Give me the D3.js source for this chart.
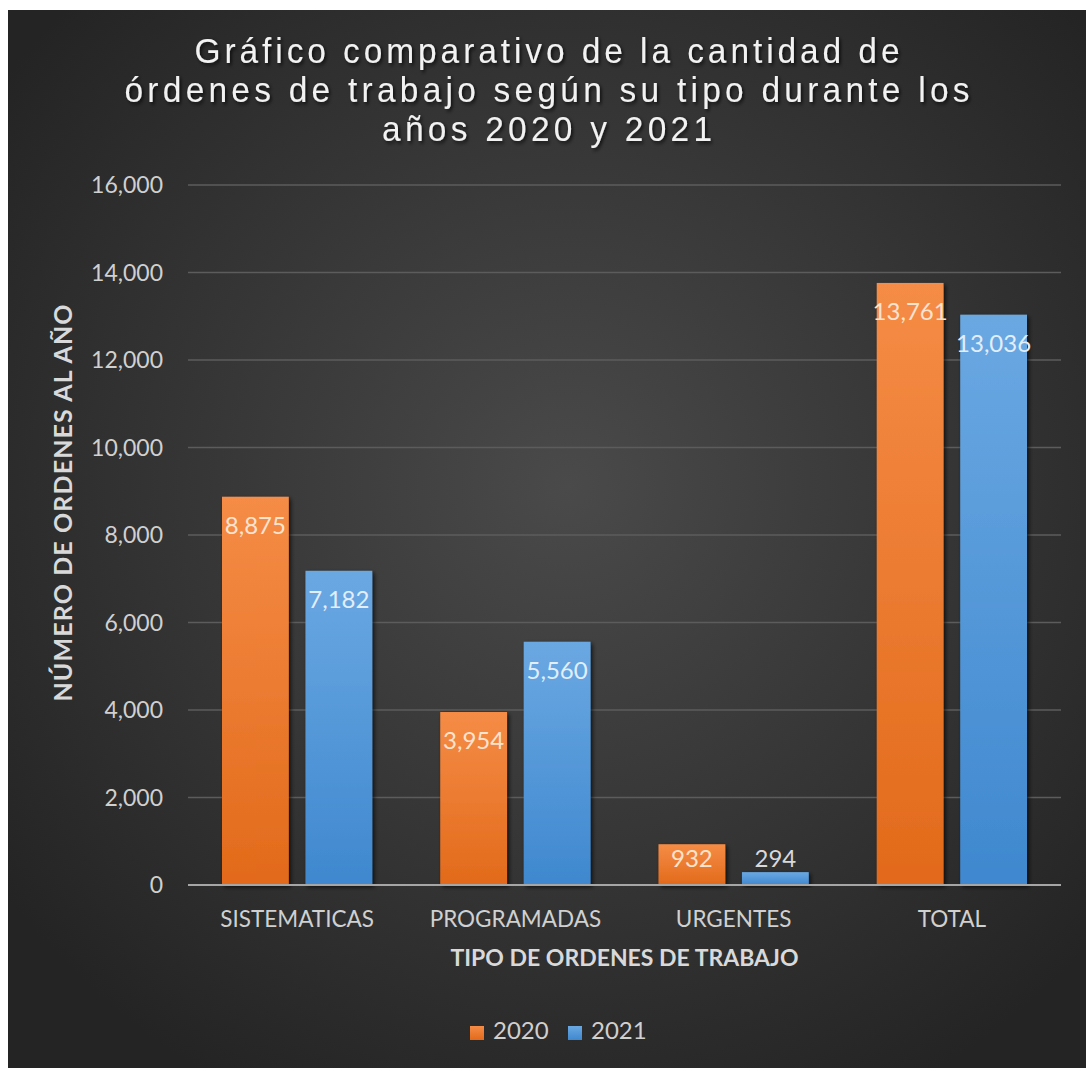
<!DOCTYPE html>
<meta charset="utf-8">
<style>
  body { margin: 0; background: #fff; }
</style>
<svg width="1086" height="1068"></svg>
<script src="https://d3js.org/d3.v7.min.js"></script>
<script>

    var categories = ["SISTEMATICAS", "PROGRAMADAS", "URGENTES", "TOTAL"];
    var years = ["2020", "2021"];
    var values2020 = [8875, 3954, 932, 13761];
    var values2021 = [7182, 5560, 294, 13036];
    var yTicks = [0, 2000, 4000, 6000, 8000, 10000, 12000, 14000, 16000];
    var titleLines = ["Gráfico comparativo de la cantidad de",
                      "órdenes de trabajo según su tipo durante los",
                      "años 2020 y 2021"];
    var titleWidths = [705, 845, 330];

    var font = "Lato, 'Open Sans', sans-serif";
    var squeeze = 0.93;   // title font is a narrow face, fake it

    var svg = d3.select("svg"),
        margin = {top: 185, left: 188, bottom: 183, right: 25},
        width = +svg.attr("width") - margin.left - margin.right,
        height = +svg.attr("height") - margin.top - margin.bottom;

    var defs = svg.append("defs");

    var bg = defs.append("radialGradient").attr("id", "bg")
        .attr("cx", "52%").attr("cy", "45%").attr("r", "65%");
    bg.append("stop").attr("offset", "0%").attr("stop-color", "#4a4a4a");
    bg.append("stop").attr("offset", "100%").attr("stop-color", "#242424");

    var colors = {"2020": ["#f58c46", "#e26a1b"], "2021": ["#6aa8e2", "#3f88cf"]};
    years.forEach(function(yr) {
        var gr = defs.append("linearGradient").attr("id", "g" + yr)
            .attr("x1", 0).attr("y1", 0).attr("x2", 0).attr("y2", 1);
        gr.append("stop").attr("offset", "0%").attr("stop-color", colors[yr][0]);
        gr.append("stop").attr("offset", "100%").attr("stop-color", colors[yr][1]);
    });

    var shadow = defs.append("filter").attr("id", "shadow")
        .attr("x", "-10%").attr("y", "-10%").attr("width", "130%").attr("height", "130%");
    shadow.append("feDropShadow").attr("dx", 2).attr("dy", 2).attr("stdDeviation", 2)
        .attr("flood-color", "#000").attr("flood-opacity", 0.7);

    svg.append("rect")
        .attr("x", 8).attr("y", 10)
        .attr("width", 1086 - 8).attr("height", 1068 - 10)
        .attr("fill", "url(#bg)");

    // title
    svg.append("g")
        .attr("transform", "translate(547,0) scale(" + squeeze + ",1)")
        .attr("filter", "url(#shadow)")
        .selectAll("text")
        .data(titleLines)
        .enter().append("text")
        .attr("x", 0)
        .attr("y", (d, i) => 63 + i * 39)
        .attr("text-anchor", "middle")
        .attr("fill", "#f2f2f2")
        .style("font-family", "'Liberation Sans', Arial, sans-serif")
        .attr("font-size", 36)
        .attr("textLength", (d, i) => titleWidths[i] / squeeze)
        .attr("lengthAdjust", "spacing")
        .text(d => d);

    var x0 = d3.scaleBand()
        .domain(categories)
        .range([0, width]);

    var x1 = d3.scaleBand()
        .domain(years)
        .range([34, x0.bandwidth() - 34])
        .paddingInner(0.2);

    var y = d3.scaleLinear()
        .domain([0, 16000])
        .range([height, 0]);

    var g = svg.append("g")
        .style("font-family", font)
        .attr("transform", "translate(" + margin.left + "," + margin.top + ")");

    // gridlines
    g.append("g").selectAll("line")
        .data(yTicks.filter(d => d > 0))
        .enter().append("line")
        .attr("x1", 0).attr("x2", width)
        .attr("y1", d => y(d)).attr("y2", d => y(d))
        .attr("stroke", "#5c5c5c")
        .attr("stroke-width", 1.5);

    // y tick labels
    g.append("g").selectAll("text")
        .data(yTicks)
        .enter().append("text")
        .attr("x", -25)
        .attr("y", d => y(d))
        .attr("dy", "0.35em")
        .attr("text-anchor", "end")
        .attr("fill", "#d0d0d0")
        .attr("font-size", 23)
        .text(d => d3.format(",")(d));

    var data = categories.map(function(c, i) {
        return {cat: c, vals: [{yr: "2020", v: values2020[i]}, {yr: "2021", v: values2021[i]}]};
    });

    var groups = g.selectAll(".cat")
        .data(data)
        .enter().append("g")
        .attr("class", "cat")
        .attr("transform", d => "translate(" + x0(d.cat) + ",0)");

    groups.selectAll("rect")
        .data(d => d.vals)
        .enter().append("rect")
        .attr("x", d => x1(d.yr))
        .attr("y", d => y(d.v))
        .attr("width", x1.bandwidth())
        .attr("height", d => height - y(d.v))
        .attr("fill", d => "url(#g" + d.yr + ")")
        .attr("filter", "url(#shadow)");

    function inside(d) { return height - y(d.v) > 30; }

    groups.selectAll(".lbl")
        .data(d => d.vals)
        .enter().append("text")
        .attr("class", "lbl")
        .attr("x", d => x1(d.yr) + x1.bandwidth() / 2)
        .attr("y", d => inside(d) ? Math.min(y(d.v) + 37, height - 18) : y(d.v) - 5)
        .attr("text-anchor", "middle")
        .attr("fill", d => inside(d) ? (d.yr == "2020" ? "#fbe3d0" : "#e2eefa") : "#d9d9d9")
        .attr("font-size", 24)
        .text(d => d3.format(",")(d.v));

    // x axis line
    g.append("line")
        .attr("x1", 0).attr("x2", width)
        .attr("y1", height).attr("y2", height)
        .attr("stroke", "#a6a6a6")
        .attr("stroke-width", 2);

    // x labels
    g.append("g").selectAll("text")
        .data(categories)
        .enter().append("text")
        .attr("x", d => x0(d) + x0.bandwidth() / 2)
        .attr("y", height + 42)
        .attr("text-anchor", "middle")
        .attr("fill", "#d0d0d0")
        .attr("font-size", 22.5)
        .text(d => d);

    // axis titles
    g.append("text")
        .attr("x", width / 2)
        .attr("y", height + 81)
        .attr("text-anchor", "middle")
        .attr("fill", "#d9d9d9")
        .attr("font-size", 23)
        .attr("font-weight", "bold")
        .text("TIPO DE ORDENES DE TRABAJO");

    g.append("text")
        .attr("transform", "translate(" + (72 - margin.left) + "," + (503 - margin.top) + ") rotate(-90)")
        .attr("text-anchor", "middle")
        .attr("fill", "#d9d9d9")
        .attr("font-size", 25)
        .attr("font-weight", "bold")
        .attr("textLength", 397)
        .attr("lengthAdjust", "spacing")
        .text("NÚMERO DE ORDENES AL AÑO");

    // legend
    var legend = svg.append("g")
        .style("font-family", font)
        .attr("transform", "translate(470,1039)");
    var lg = legend.selectAll("g")
        .data(years)
        .enter().append("g")
        .attr("transform", (d, i) => "translate(" + (i * 98) + ",0)");
    lg.append("rect")
        .attr("x", 0).attr("y", -13)
        .attr("width", 14).attr("height", 14)
        .attr("fill", d => "url(#g" + d + ")");
    lg.append("text")
        .attr("x", 23)
        .attr("fill", "#d0d0d0")
        .attr("font-size", 24)
        .text(d => d);

</script>
